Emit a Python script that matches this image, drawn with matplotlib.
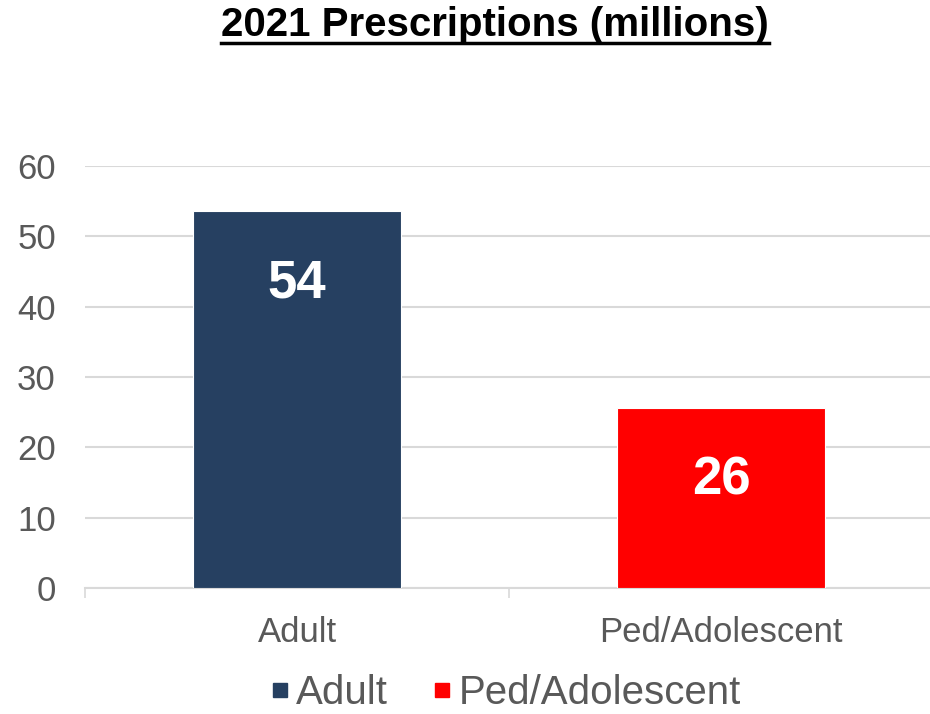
import matplotlib
matplotlib.use('Agg')
import matplotlib.pyplot as plt
from matplotlib.lines import Line2D

plt.rcParams['font.family'] = ['Liberation Sans', 'DejaVu Sans']

# Số liệu đơn thuốc năm 2021 (triệu)
categories = ['Adult', 'Ped/Adolescent']
values = [53.6, 25.6]
colors = ['#264061', '#FF0000']
yticks = [0, 10, 20, 30, 40, 50, 60]

fig = plt.figure(figsize=(9.3, 7.14), dpi=100)
ax = fig.add_axes([85 / 930, 1 - 588 / 714, 848 / 930, 422 / 714])

x = range(len(categories))
bars = ax.bar(x, values, width=0.49, color=colors, edgecolor='white', linewidth=0.8, zorder=3)

# Nhãn giá trị bên trong cột
for b, v in zip(bars, values):
    ax.annotate(f'{v:.0f}', (b.get_x() + b.get_width() / 2, v),
                xytext=(0, -52), textcoords='offset points',
                ha='center', va='center', color='white', fontsize=38, fontweight='bold', zorder=4)

ax.set_xlim(-0.5, 1.5)
ax.set_ylim(0, 60)
ax.set_yticks(yticks)
ax.tick_params(axis='y', length=0, labelsize=25, labelcolor='#595959', pad=21)
ax.set_xticks(list(x))
ax.set_xticklabels(categories)
ax.tick_params(axis='x', length=0, labelsize=25, labelcolor='#595959', pad=20)
# vạch chia giữa các nhóm
ax.set_xticks([-0.5, 0.5, 1.5], minor=True)
ax.tick_params(axis='x', which='minor', length=7, width=1.2, color='#D9D9D9', direction='out')

ax.grid(True, axis='y', color='#D9D9D9', linewidth=1.5, zorder=0)
for s in ['top', 'right', 'left']:
    ax.spines[s].set_visible(False)
ax.spines['bottom'].set_color('#D9D9D9')
ax.spines['bottom'].set_linewidth(1.5)

# Tiêu đề gạch chân
title = fig.text(495 / 930, 1 - 25 / 714, '2021 Prescriptions (millions)', ha='center', va='center',
                 fontsize=29, fontweight='bold', color='black')
fig.canvas.draw()
bb = title.get_window_extent().transformed(fig.transFigure.inverted())
fig.add_artist(Line2D([bb.x0, bb.x1], [bb.y0 + 0.002, bb.y0 + 0.002], color='black', linewidth=2.5,
                      transform=fig.transFigure))

# Chú thích
handles = [Line2D([], [], marker='s', linestyle='', markersize=10, color=c) for c in colors]
fig.legend(handles, categories, loc='center', bbox_to_anchor=(0.541, 1 - 693 / 714), ncol=2,
           frameon=False, fontsize=29, labelcolor='#595959', handletextpad=0.05, columnspacing=1.0,
           handlelength=0.7)

plt.savefig('out.png', dpi=100)
